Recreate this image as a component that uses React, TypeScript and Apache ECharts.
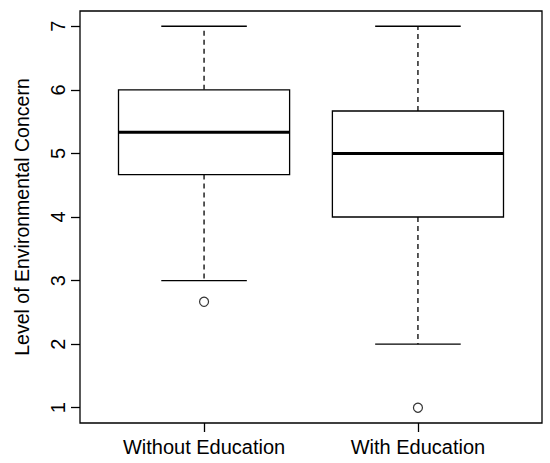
import React, { useEffect, useRef } from "react";
import * as echarts from "echarts";

const categories = ["Without Education", "With Education"];
const lowerWhisker = [3, 2];
const q1 = [4.667, 4];
const median = [5.333, 5];
const q3 = [6, 5.667];
const upperWhisker = [7, 7];
const outlierCategory = [1, 2];
const outlierValue = [2.667, 1];
const yTicks = [1, 2, 3, 4, 5, 6, 7];
const yTitle = "Level of Environmental Concern";

const FONT = "'Liberation Sans', Arial, Helvetica, sans-serif";

export default function App() {
  const ref = useRef<HTMLDivElement>(null);
  useEffect(() => {
    if (!ref.current) return;
    const chart = echarts.init(ref.current, null, { renderer: "svg" });
    const boxData = categories.map((_, i) => [
      i + 1,
      lowerWhisker[i],
      q1[i],
      median[i],
      q3[i],
      upperWhisker[i],
    ]);
    const outData = outlierCategory.map((c, i) => [c, outlierValue[i]]);
    const lw = 1.3;
    chart.setOption({
      animation: false,
      backgroundColor: "#fff",
      grid: {
        left: 80,
        right: 8,
        top: 11,
        bottom: 40,
        show: true,
        borderColor: "#000",
        borderWidth: lw,
        backgroundColor: "transparent",
      },
      xAxis: {
        type: "value",
        min: 0.42,
        max: 2.58,
        axisLine: { show: false },
        splitLine: { show: false },
        axisTick: {
          show: true,
          length: 9,
          lineStyle: { color: "#000", width: lw },
          customValues: [1, 2],
        },
        axisLabel: {
          customValues: [1, 2],
          formatter: (v: number) => categories[Math.round(v) - 1] ?? "",
          color: "#000",
          fontFamily: FONT,
          fontSize: 20,
          margin: 14,
        },
      },
      yAxis: {
        type: "value",
        min: 0.76,
        max: 7.24,
        name: yTitle,
        nameLocation: "middle",
        nameRotate: 90,
        nameGap: 48,
        nameTextStyle: { color: "#000", fontFamily: FONT, fontSize: 19.5 },
        axisLine: { show: false },
        splitLine: { show: false },
        axisTick: {
          show: true,
          length: 9,
          lineStyle: { color: "#000", width: lw },
          customValues: yTicks,
        },
        axisLabel: {
          customValues: yTicks,
          rotate: 90,
          color: "#000",
          fontFamily: FONT,
          fontSize: 20,
          margin: 12,
        },
      },
      series: [
        {
          type: "custom",
          data: boxData,
          renderItem: (params: any, api: any) => {
            const x = api.value(0);
            const lo = api.coord([x, api.value(1)]);
            const a = api.coord([x, api.value(2)]);
            const m = api.coord([x, api.value(3)]);
            const b = api.coord([x, api.value(4)]);
            const hi = api.coord([x, api.value(5)]);
            const hb = api.size([0.8, 0])[0] / 2;
            const hc = api.size([0.4, 0])[0] / 2;
            const cx = a[0];
            const solid = { stroke: "#000", lineWidth: lw };
            const dashed = { stroke: "#000", lineWidth: lw, lineDash: [5, 4] };
            return {
              type: "group",
              children: [
                { type: "line", shape: { x1: cx, y1: b[1], x2: cx, y2: hi[1] }, style: dashed },
                { type: "line", shape: { x1: cx, y1: a[1], x2: cx, y2: lo[1] }, style: dashed },
                { type: "line", shape: { x1: cx - hc, y1: hi[1], x2: cx + hc, y2: hi[1] }, style: solid },
                { type: "line", shape: { x1: cx - hc, y1: lo[1], x2: cx + hc, y2: lo[1] }, style: solid },
                {
                  type: "rect",
                  shape: { x: cx - hb, y: b[1], width: 2 * hb, height: a[1] - b[1] },
                  style: { fill: "#fff", stroke: "#000", lineWidth: lw },
                },
                { type: "line", shape: { x1: cx - hb, y1: m[1], x2: cx + hb, y2: m[1] }, style: { stroke: "#000", lineWidth: 3 } },
              ],
            };
          },
        },
        {
          type: "scatter",
          data: outData,
          symbol: "circle",
          symbolSize: 9,
          itemStyle: { color: "transparent", borderColor: "#000", borderWidth: 1.2 },
        },
      ],
    });
    return () => chart.dispose();
  }, []);
  return (
    <div
      ref={ref}
      style={{ position: "fixed", left: 0, top: 0, width: 550, height: 463 }}
    />
  );
}
